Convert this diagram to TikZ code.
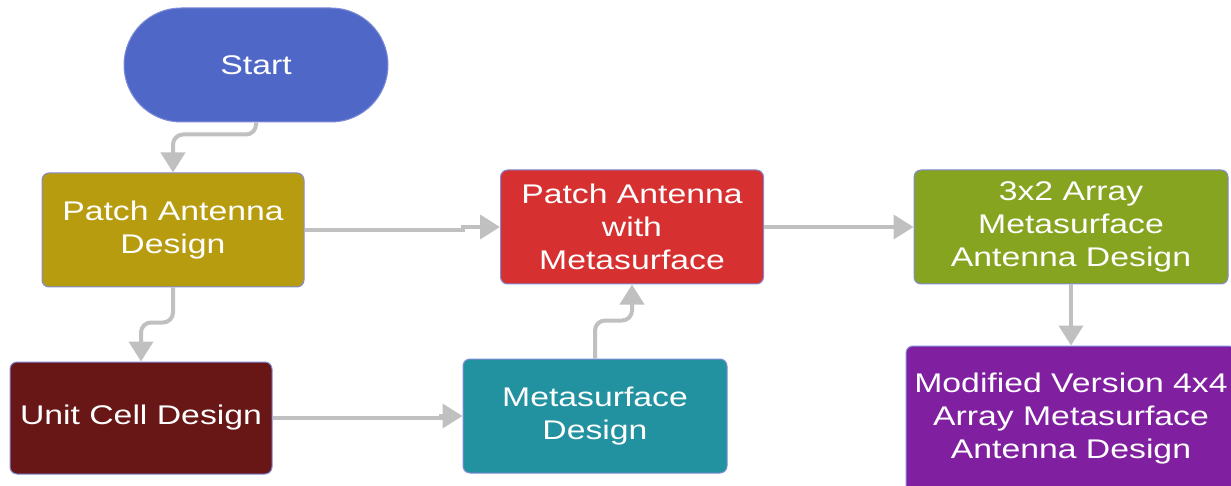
\documentclass[tikz,border=0pt]{standalone}
\usepackage{fontspec}
\setmainfont{Liberation Sans}[FakeStretch=1.25]
\usepackage{tikz}
\usetikzlibrary{arrows.meta}
\usepackage{xcolor}

\definecolor{startblue}{RGB}{79,104,200}
\definecolor{patchgold}{RGB}{184,156,16}
\definecolor{unitred}{RGB}{104,22,22}
\definecolor{metateal}{RGB}{34,145,160}
\definecolor{pawmred}{RGB}{214,48,48}
\definecolor{arraygreen}{RGB}{134,164,32}
\definecolor{modpurple}{RGB}{128,32,160}
\definecolor{edgeblue}{RGB}{128,140,215}
\definecolor{flowgray}{RGB}{192,192,192}

\tikzset{
  box/.style={draw=edgeblue, line width=1pt, rounded corners=7pt, text=white,
    minimum width=262pt, minimum height=114pt, align=center,
    font=\fontsize{27}{33}\selectfont},
  flow/.style={draw=flowgray, line width=4pt, rounded corners=10pt,
    -{Triangle[width=24pt,length=20pt]}}
}

\begin{document}
\begin{tikzpicture}[x=1pt,y=-1pt]
\useasboundingbox (0,0) rectangle (1231,486);
\clip (0,0) rectangle (1231,486);

% blocks
\node[box, fill=startblue, minimum width=264pt, rounded corners=57pt] (start) at (256,65) {Start};
\node[box, fill=patchgold] (patch) at (173,230) {Patch Antenna\\Design};
\node[box, fill=unitred, minimum height=112pt] (unit) at (141,418) {Unit Cell Design};
\node[box, fill=metateal, minimum width=264pt] (meta) at (595,416) {Metasurface\\Design};
\node[box, fill=pawmred, minimum width=263pt] (pawm) at (632,227) {Patch Antenna\\with\\Metasurface};
\node[box, fill=arraygreen, minimum width=314pt] (arr) at (1071,227) {3x2 Array\\Metasurface\\Antenna Design};
\node[box, fill=modpurple, minimum width=330pt, minimum height=146pt] (mod) at (1071,419) {Modified Version 4x4\\Array Metasurface\\Antenna Design};

% connectors
\draw[flow] (start.south) -- ++(0,12) -| (patch.north);
\draw[flow] (patch.south) -- ++(0,35) -| (unit.north);
\draw[flow, sharp corners] (patch.east) -- ++(158,0) |- (pawm.west);
\draw[flow, sharp corners] (unit.east) -- ++(168,0) |- (meta.west);
\draw[flow] (meta.north) -- ++(0,-38) -| (pawm.south);
\draw[flow] (pawm.east) -- (arr.west);
\draw[flow] (arr.south) -- (mod.north);
\end{tikzpicture}
\end{document}
